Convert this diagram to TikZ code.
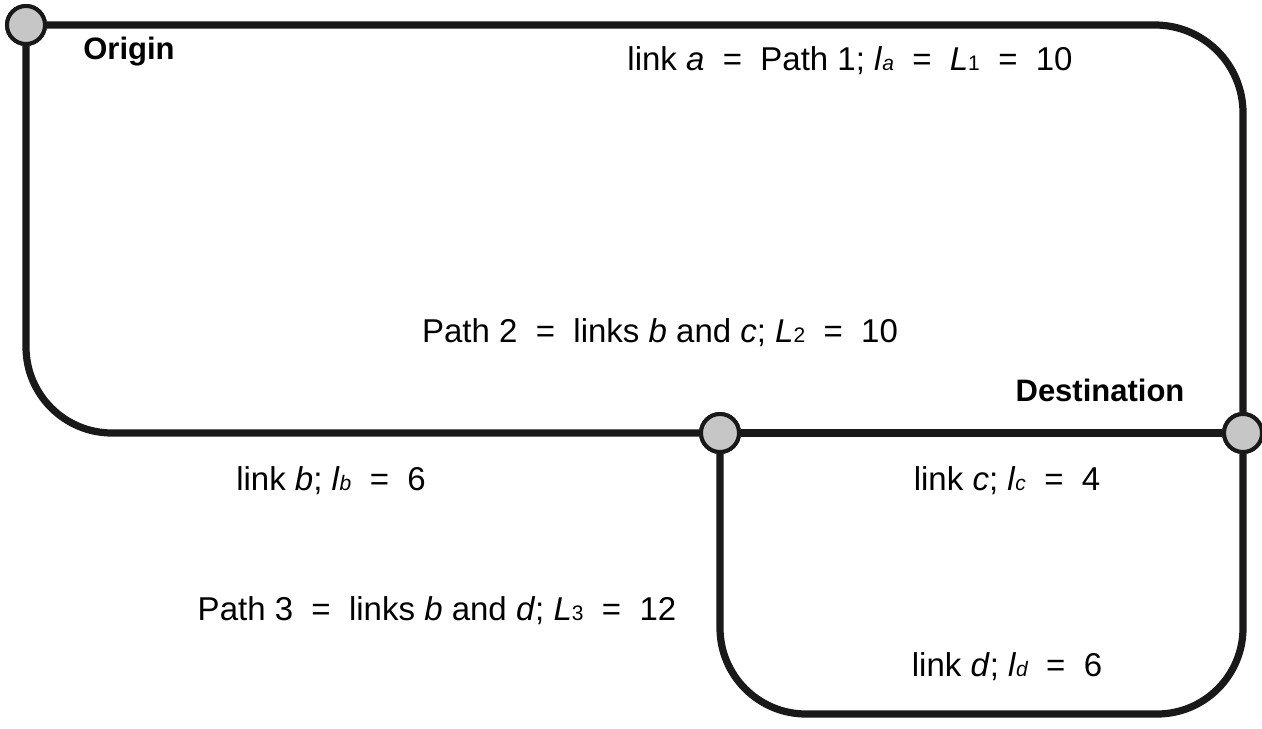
\documentclass[tikz,border=0pt]{standalone}
\usepackage{fontspec}
\setmainfont{Liberation Sans}
\newcommand\sbs[1]{{\fontsize{10.5}{10.5}\selectfont\itshape #1}}
\begin{document}
\begin{tikzpicture}[x=0.5pt,y=-0.5pt,
  link/.style={line width=3.6pt, black!90},
  nd/.style={circle, draw=black!90, line width=2pt, fill=gray!45, minimum size=19pt, inner sep=0pt},
  lbl/.style={font=\fontsize{16.5}{19}\selectfont, inner sep=0pt, anchor=base},
  blbl/.style={font=\fontsize{15.5}{18}\selectfont\bfseries, inner sep=0pt, anchor=base}]
\useasboundingbox (0,0) rectangle (1262,728);
\coordinate (dl) at (720,714);
\coordinate (dr) at (1243,714);
% nodes (placed first for names, redrawn on top)
\path (26,25) node[nd] (O) {};
\path (720,433) node[nd] (M) {};
\path (1243,433) node[nd] (D) {};
% links
\draw[link, rounded corners=44pt] (O) -- (O -| D) -- (D);
\draw[link, rounded corners=43pt] (O) -- (O |- M) -- (M);
\draw[link] (M) -- (D);
\draw[link, rounded corners=43pt] (M) -- (M |- dl) -- (dr) -- (D);
% redraw nodes on top
\path (26,25) node[nd] {};
\path (720,433) node[nd] {};
\path (1243,433) node[nd] {};
% labels
\node[blbl] (orig) at (129,59) {Origin};
\node[blbl] (dest) at (1100,401) {Destination};
\node[lbl] (la) at (850,70) {link \textit{a} \ = \ Path 1; \textit{l}\sbs{a} \ = \ \textit{L}\sbs{\upshape 1} \ = \ 10};
\node[lbl] (p2) at (660,342) {Path 2 \ = \ links \textit{b} and \textit{c}; \textit{L}\sbs{\upshape 2} \ = \ 10};
\node[lbl] (lb) at (331,490) {link \textit{b}; \textit{l}\sbs{b} \ = \ 6};
\node[lbl] (lc) at (1007,490) {link \textit{c}; \textit{l}\sbs{c} \ = \ 4};
\node[lbl] (p3) at (437,620) {Path 3 \ = \ links \textit{b} and \textit{d}; \textit{L}\sbs{\upshape 3} \ = \ 12};
\node[lbl] (ld) at (1007,676) {link \textit{d}; \textit{l}\sbs{d} \ = \ 6};
\end{tikzpicture}
\end{document}
